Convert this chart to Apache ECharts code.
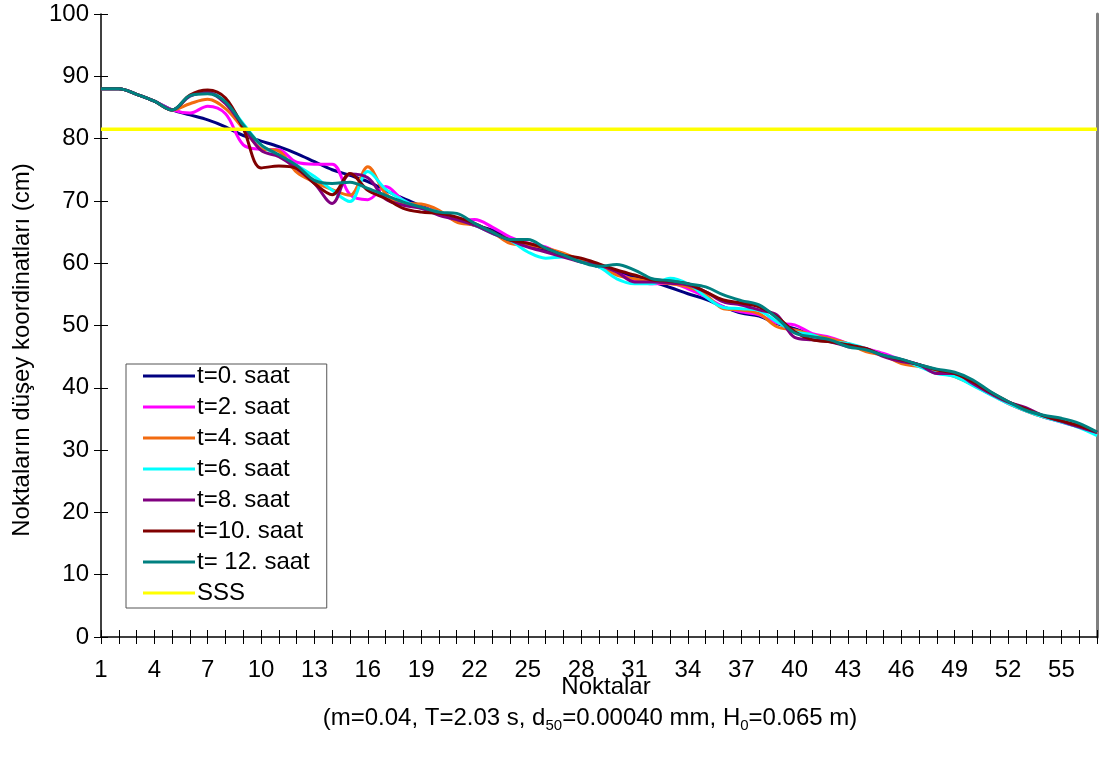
<!DOCTYPE html>
<html>
<head>
<meta charset="utf-8">
<title>Noktalar</title>
<script src="https://cdn.jsdelivr.net/npm/echarts@6/dist/echarts.min.js"></script>
<style>
html, body {margin:0; padding:0; background:#fff;}
#main {width:1100px; height:760px;}
</style>
</head>
<body>
<div id="main"></div>
<script>
// noktalar (x ekseni)
var noktalar = ['1','2','3','4','5','6','7','8','9','10','11','12','13','14','15','16','17','18','19','20',
  '21','22','23','24','25','26','27','28','29','30','31','32','33','34','35','36','37','38','39','40',
  '41','42','43','44','45','46','47','48','49','50','51','52','53','54','55','56','57'];

// düşey koordinatlar (cm)
var saat0 = [88.0, 88.0, 87.1, 86.0, 84.6,
  83.8, 83.0, 81.9, 80.5, 79.6, 78.7, 77.6, 76.3, 75.0, 74.1, 73.1,
  71.7, 70.4, 69.2, 68.0, 67.0, 66.1, 65.3, 64.0, 62.9, 62.1, 61.3, 60.5, 59.4, 58.6, 57.8, 57.0, 56.1,
  55.1, 54.2, 53.0, 52.0, 51.5, 50.3, 49.5, 48.5, 47.8, 47.0, 46.2, 45.3, 44.4, 43.5, 42.7, 41.9,
  40.6, 39.0, 37.6, 36.4, 35.4, 34.6, 33.8, 32.8];
var saat2 = [88.0, 88.0, 87.1, 86.0, 84.6,
  84.1, 85.2, 84.0, 79.0, 78.3, 78.2, 76.2, 75.9, 75.9, 71.0, 70.2,
  72.3, 70.1, 69.0, 68.2, 66.9, 67.0, 65.8, 64.2, 63.2, 62.6, 61.3, 60.5, 59.4, 58.4, 57.3, 56.7, 56.8,
  55.9, 54.6, 53.0, 52.2, 51.7, 50.4, 50.1, 48.7, 48.1, 47.1, 46.3, 45.5, 44.5, 43.7, 42.6, 42.0,
  40.5, 39.0, 37.5, 36.3, 35.3, 34.5, 33.7, 32.7];
var saat4 = [88.0, 88.0, 87.1, 86.0, 84.6,
  85.6, 86.3, 84.8, 81.6, 78.4, 78.0, 74.6, 73.0, 71.8, 70.9, 75.5,
  71.2, 69.6, 69.5, 68.5, 66.6, 66.1, 65.0, 63.2, 62.9, 62.4, 61.6, 60.5, 59.7, 58.1, 57.5, 57.0, 56.7,
  56.2, 54.9, 52.7, 52.5, 51.9, 49.8, 49.3, 48.5, 47.9, 47.1, 45.8, 45.2, 43.9, 43.4, 42.6, 41.8,
  40.5, 39.0, 37.5, 36.3, 35.3, 34.6, 33.7, 32.6];
var saat6 = [88.0, 88.0, 87.1, 86.0, 84.6,
  86.8, 87.5, 85.9, 82.4, 79.0, 77.3, 75.7, 73.9, 71.7, 69.9, 74.7,
  71.9, 70.1, 68.8, 68.2, 67.2, 66.1, 64.8, 63.7, 61.8, 60.8, 61.0, 60.2, 59.4, 57.5, 56.7, 56.7, 57.6,
  56.7, 54.6, 52.9, 52.7, 52.4, 50.6, 49.0, 48.5, 47.4, 47.1, 46.3, 45.2, 44.5, 43.4, 42.3, 41.8,
  40.4, 38.9, 37.5, 36.3, 35.3, 34.5, 33.6, 32.3];
var saat8 = [88.0, 88.0, 87.1, 86.0, 84.6,
  86.8, 87.4, 85.6, 81.9, 78.1, 77.1, 75.2, 72.8, 69.6, 74.3, 73.7,
  70.3, 69.3, 68.8, 67.7, 67.0, 66.1, 64.8, 63.7, 62.6, 61.8, 61.0, 60.2, 59.7, 58.6, 57.0, 57.0, 56.8,
  56.5, 55.4, 53.8, 53.3, 52.5, 51.7, 48.1, 47.7, 47.4, 46.6, 46.3, 45.0, 44.2, 43.7, 42.3, 42.3,
  40.7, 39.1, 37.7, 36.8, 35.5, 34.6, 33.7, 32.8];
var saat10 = [88.0, 88.0, 87.1, 86.0, 84.6,
  87.0, 87.8, 86.5, 81.6, 75.3, 75.6, 75.2, 72.8, 71.0, 74.4, 71.7,
  70.4, 68.8, 68.2, 68.0, 67.4, 66.4, 65.0, 63.7, 63.2, 62.4, 61.3, 60.8, 59.9, 58.9, 58.1, 57.3, 57.1,
  56.7, 55.4, 54.1, 53.6, 53.0, 51.4, 49.0, 47.7, 47.4, 46.9, 46.3, 45.2, 44.5, 43.7, 42.9, 42.3,
  41.0, 39.3, 37.8, 36.6, 35.5, 34.7, 33.9, 32.9];
var saat12 = [88.0, 88.0, 87.1, 86.0, 84.6,
  86.9, 87.2, 85.9, 82.2, 79.0, 77.4, 75.7, 73.3, 72.8, 73.0, 72.0,
  70.9, 69.8, 69.0, 68.2, 68.0, 66.4, 65.0, 63.8, 63.8, 62.4, 61.3, 60.2, 59.5, 59.8, 58.9, 57.5, 57.2,
  56.7, 56.2, 54.9, 54.0, 53.3, 51.2, 48.8, 48.2, 47.7, 46.6, 46.1, 45.2, 44.6, 43.7, 43.0, 42.5,
  41.3, 39.4, 37.8, 36.4, 35.6, 35.1, 34.3, 32.9];
var sss = 81.5; // SSS seviyesi

var yazi = 'Liberation Sans, Arial, sans-serif';
var chart = echarts.init(document.getElementById('main'));

function seri(ad, veri, renk) {
  return {
    name: ad, type: 'line', data: veri, smooth: 0.35,
    symbol: 'none', showSymbol: false,
    lineStyle: {color: renk, width: 3},
    itemStyle: {color: renk}
  };
}

var option = {
  animation: false,
  backgroundColor: '#fff',
  grid: {left: 101, right: 3, top: 14, bottom: 123},
  legend: {
    orient: 'vertical', left: 126, top: 364,
    selectedMode: false,
    icon: 'rect',
    backgroundColor: '#fff', borderColor: '#555', borderWidth: 1,
    padding: [0, 17, 3, 17],
    itemWidth: 52, itemHeight: 3, itemGap: 7,
    textStyle: {fontSize: 24, lineHeight: 24, fontFamily: yazi, color: '#000', padding: [0, 0, 0, -3]},
    data: ['t=0. saat', 't=2. saat', 't=4. saat', 't=6. saat', 't=8. saat', 't=10. saat', 't= 12. saat', 'SSS']
  },
  xAxis: [{
    type: 'category', data: noktalar, boundaryGap: false,
    axisLine: {lineStyle: {color: '#000', width: 1.5}},
    axisTick: {interval: 0, length: 7, lineStyle: {color: '#000'}},
    axisLabel: {interval: 2, margin: 21, fontSize: 24, fontFamily: yazi, color: '#000'},
    splitLine: {show: false}
  }, {
    type: 'category', data: noktalar, boundaryGap: false, position: 'bottom',
    axisLine: {show: false},
    axisTick: {interval: 0, inside: true, length: 7, lineStyle: {color: '#000'}},
    axisLabel: {show: false}, splitLine: {show: false}
  }],
  yAxis: [{
    type: 'value', min: 0, max: 100, interval: 10,
    axisLine: {show: true, lineStyle: {color: '#000', width: 1.5}},
    axisTick: {show: true, length: 7, lineStyle: {color: '#000'}},
    axisLabel: {margin: 12, fontSize: 24, fontFamily: yazi, color: '#000'},
    splitLine: {show: false}
  }, {
    type: 'value', min: 0, max: 100, interval: 10, position: 'left',
    axisLine: {show: false},
    axisTick: {show: true, inside: true, length: 7, lineStyle: {color: '#000'}},
    axisLabel: {show: false}, splitLine: {show: false}
  }, {
    type: 'value', min: 0, max: 100, interval: 10, position: 'right',
    axisLine: {show: true, lineStyle: {color: '#808080', width: 3}},
    axisTick: {show: false}, axisLabel: {show: false}, splitLine: {show: false}
  }],
  series: [
    seri('t=0. saat', saat0, '#000080'),
    seri('t=2. saat', saat2, '#FF00FF'),
    seri('t=4. saat', saat4, '#F26B10'),
    seri('t=6. saat', saat6, '#00FFFF'),
    seri('t=8. saat', saat8, '#800080'),
    seri('t=10. saat', saat10, '#800000'),
    seri('t= 12. saat', saat12, '#008080'),
    {
      name: 'SSS', type: 'line', symbol: 'none', showSymbol: false,
      data: [[noktalar[0], sss], [noktalar[noktalar.length - 1], sss]],
      lineStyle: {color: '#FFFF00', width: 3.5}, itemStyle: {color: '#FFFF00'}
    }
  ],
  graphic: [{
    type: 'text', x: 22, y: 350, rotation: Math.PI / 2,
    style: {text: 'Noktaların düşey koordinatları (cm)', fontSize: 24, fontFamily: yazi, fill: '#000', align: 'center', verticalAlign: 'middle'}
  }, {
    type: 'text', x: 606, y: 687,
    style: {text: 'Noktalar', fontSize: 24, fontFamily: yazi, fill: '#000', align: 'center', verticalAlign: 'middle'}
  }, {
    type: 'text', x: 590, y: 718,
    style: {
      text: '{n|(m=0.04, T=2.03 s, d}{s|50}{n|=0.00040 mm, H}{s|0}{n|=0.065 m)}',
      align: 'center', verticalAlign: 'middle', fill: '#000',
      rich: {
        n: {fontSize: 24, fontFamily: yazi, fill: '#000', lineHeight: 30, verticalAlign: 'middle'},
        s: {fontSize: 15, fontFamily: yazi, fill: '#000', lineHeight: 30, verticalAlign: 'bottom', padding: [10, 0, 0, 0]}
      }
    }
  }]
};
chart.setOption(option);
</script>
</body>
</html>
